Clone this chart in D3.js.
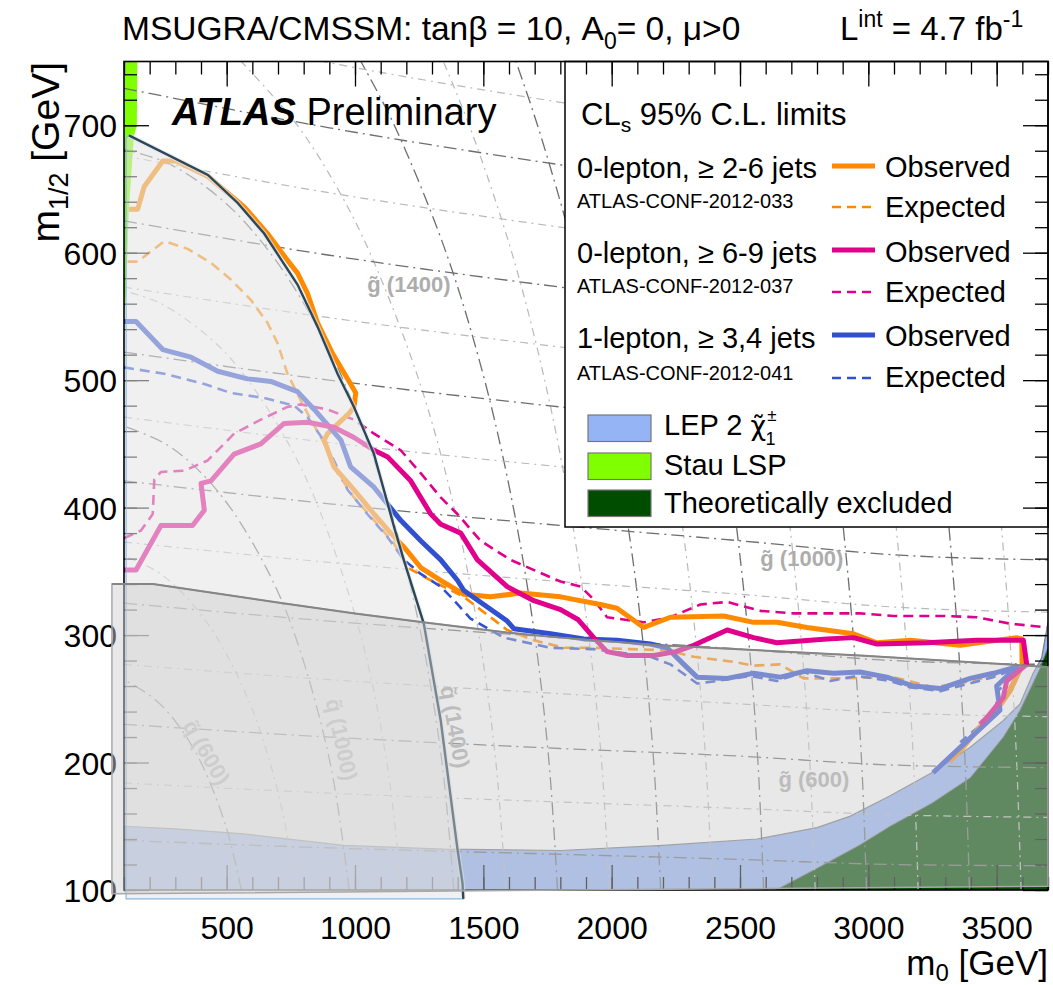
<!DOCTYPE html>
<html><head><meta charset="utf-8">
<script src="https://cdn.jsdelivr.net/npm/d3@7"></script>
<style>
body{margin:0;background:#fff}
svg{display:block}
text{font-family:"Liberation Sans",Arial,Helvetica,sans-serif;fill:#000}
</style></head>
<body><svg id="c" width="1053" height="985"></svg>
<script>
// ---------------- data (m0, m1/2 in GeV) ----------------
const xMajor = [500,1000,1500,2000,2500,3000,3500];
const yMajor = [100,200,300,400,500,600,700];

const orangeObs = [[120,634],[153,634],[179,652],[251,672],[302,672],[426,660],[568,636],[659,615],[737,594],[776,584],[815,568],[854,545],[912,521],[983,497],[1003,490],[996,479],[977,474],[893,458],[880,453],[918,432],[996,414],[1074,395],[1139,380],[1191,369],[1256,353],[1334,343],[1399,335],[1424,332],[1528,330],[1645,333],[1801,330],[1956,324],[2021,321],[2125,306],[2229,314],[2436,315],[2553,310],[2644,310],[2761,306],[2942,301],[3033,294],[3163,296],[3358,292],[3578,298],[3598,297],[3599,276],[3552,256],[3500,241],[3435,228],[3370,212],[3318,201]];
const orangeExp = [[114,593],[153,593],[257,609],[348,603],[439,592],[516,579],[594,563],[659,545],[698,529],[737,505],[789,484],[828,469],[873,453],[932,427],[996,408],[1074,390],[1152,372],[1204,353],[1295,343],[1424,330],[1593,304],[1697,296],[1814,290],[1930,290],[2073,289],[2216,288],[2320,283],[2475,279],[2553,276],[2657,277],[2748,266],[2865,266],[3098,267],[3254,259],[3410,264],[3591,275],[3533,252],[3455,233]];
const magentaObs = [[100,351],[147,351],[244,386],[367,386],[413,398],[400,419],[439,421],[529,442],[633,450],[724,466],[815,467],[918,463],[996,455],[1074,445],[1126,440],[1217,421],[1295,395],[1334,387],[1412,380],[1477,359],[1593,338],[1697,327],[1801,320],[1870,312],[1930,298],[1982,287],[2060,284],[2164,284],[2250,287],[2320,292],[2450,304],[2553,298],[2644,294],[2839,297],[2942,298],[3033,293],[3228,294],[3422,296],[3604,296],[3617,277],[3539,264],[3526,251],[3461,235],[3435,230]];
const magentaExp = [[100,376],[166,382],[212,395],[218,422],[244,428],[335,429],[426,437],[529,458],[633,469],[737,479],[789,481],[893,477],[996,469],[1074,458],[1178,445],[1256,427],[1334,408],[1399,395],[1489,374],[1606,359],[1801,342],[1879,338],[1930,328],[1982,314],[2125,310],[2229,314],[2346,324],[2450,326],[2580,319],[2709,317],[2968,317],[3098,315],[3293,315],[3422,314],[3552,309],[3695,306]];
const blueObs = [[100,546],[147,546],[251,524],[361,518],[465,507],[581,501],[672,499],[776,491],[841,477],[945,453],[983,432],[1074,416],[1126,403],[1178,390],[1256,374],[1334,359],[1399,343],[1424,335],[1593,311],[1619,305],[1762,301],[1892,297],[2021,296],[2151,293],[2216,290],[2281,277],[2333,267],[2450,266],[2553,270],[2657,267],[2761,272],[2865,270],[2968,271],[3072,267],[3176,260],[3280,258],[3397,266],[3487,270],[3578,275],[3500,260],[3513,241],[3385,217],[3252,192]];
const blueExp = [[100,510],[257,505],[413,497],[516,490],[646,486],[763,480],[815,471],[867,456],[918,437],[971,414],[1048,395],[1126,377],[1191,359],[1256,348],[1334,338],[1373,330],[1450,313],[1580,298],[1762,290],[1930,289],[2151,283],[2229,277],[2333,262],[2411,264],[2540,268],[2644,264],[2748,271],[2852,264],[2956,268],[3085,264],[3163,259],[3280,256],[3487,267],[3591,275],[3505,256],[3494,239],[3358,216]];

const lepTop  = [[100,150],[300,148],[567,144],[956,135],[1345,132],[1800,131],[2200,135],[2566,140],[2800,149],[2930,158],[3085,174],[3247,192],[3397,212],[3526,233],[3591,246],[3642,270],[3675,282],[3700,310]];
const theoTop = [[2640,100],[2800,117],[2964,135],[3085,150],[3247,168],[3397,188],[3526,220],[3591,241],[3669,274],[3700,290]];
const stauEdge = [[100,750],[152,750],[150,700],[139,692],[119,634],[108,568],[100,550]];
const prevSquarkEdge = [[119,692],[427,661],[543,639],[646,615],[776,575],[854,542],[932,505],[996,479],[1074,442],[1152,385],[1190,359],[1268,309],[1334,233],[1361,191],[1400,131],[1419,105],[1422,93]];
const prevBandTop = [[53,340],[213,340],[450,333],[719,325],[1000,317],[1265,310],[1592,302],[1799,298],[2188,292],[2968,284],[3700,275]];

// iso-mass contours
const squarkContours = [
 {m:600,  pts:[[557,100],[497,150],[400,200],[309,230],[218,250],[100,265]]},
 {m:800,  pts:[[769,100],[729,150],[669,200],[583,250],[456,300],[342,330],[228,350],[100,362]]},
 {m:1000, pts:[[977,100],[903,200],[766,300],[661,350],[514,400],[387,430],[262,450],[100,464]]},
 {m:1200, pts:[[1182,100],[1124,200],[1022,300],[858,400],[741,450],[583,500],[452,530],[245,560],[100,570]]},
 {m:1400, pts:[[1385,100],[1339,200],[1258,300],[1135,400],[954,500],[830,550],[669,600],[490,640],[273,670],[100,681]]},
 {m:1600, pts:[[1587,100],[1549,200],[1483,300],[1386,400],[1249,500],[1058,600],[933,650],[775,700],[557,750]]},
 {m:1800, pts:[[1789,100],[1756,200],[1700,300],[1617,400],[1505,500],[1355,600],[1153,700],[1023,750]]},
 {m:2000, pts:[[1990,100],[1961,200],[1910,300],[1837,400],[1739,500],[1611,600],[1445,700],[1344,750]]},
 {m:2200, pts:[[2191,100],[2164,200],[2119,300],[2053,400],[1966,500],[1854,600],[1711,700],[1627,750]]},
 {m:2400, pts:[[2392,100],[2367,200],[2326,300],[2266,400],[2187,500],[2087,600],[1962,700],[1888,750]]},
 {m:2600, pts:[[2592,100],[2570,200],[2532,300],[2477,400],[2405,500],[2314,600],[2202,700],[2137,750]]},
 {m:2800, pts:[[2793,100],[2772,200],[2737,300],[2686,400],[2620,500],[2537,600],[2435,700],[2376,750]]},
 {m:3000, pts:[[2993,100],[2974,200],[2941,300],[2894,400],[2833,500],[2756,600],[2663,700],[2609,750]]},
 {m:3200, pts:[[3194,100],[3176,200],[3145,300],[3101,400],[3044,500],[2973,600],[2886,700],[2837,750]]},
 {m:3400, pts:[[3394,100],[3377,200],[3348,300],[3307,400],[3253,500],[3187,600],[3106,700],[3060,750]]},
 {m:3600, pts:[[3595,100],[3578,200],[3551,300],[3512,400],[3462,500],[3399,600],[3324,700],[3281,750]]},
 {m:3800, pts:[[3795,100],[3779,200],[3754,300],[3717,400],[3669,500],[3611,600],[3540,700],[3499,750]]}
];
const gluinoM0 = [100,900,1800,2500,3100,3700];
const gluinoContours = [
 {m:400,  v:[139,133,128,124,120,119]},
 {m:500,  v:[184,176,169,164,159,157]},
 {m:600,  v:[230,220,211,205,198,196]},
 {m:700,  v:[277,265,254,246,239,236]},
 {m:800,  v:[325,311,298,289,280,277]},
 {m:900,  v:[373,357,342,332,322,318]},
 {m:1000, v:[421,403,386,374,363,359]},
 {m:1100, v:[471,451,432,419,406,402]},
 {m:1200, v:[522,500,479,465,450,446]},
 {m:1300, v:[573,549,526,510,494,489]},
 {m:1400, v:[625,598,573,556,539,533]},
 {m:1500, v:[676,647,620,601,583,577]},
 {m:1600, v:[729,698,669,649,629,622]},
 {m:1700, v:[783,749,718,697,675,668]},
 {m:1800, v:[836,800,767,744,721,713]},
 {m:1900, v:[890,851,816,792,767,759]}
];
const contourLabels = [
 {t:"g\u0303 (1400)", m0:1210, m12:569, a:0},
 {t:"g\u0303 (1000)", m0:2741, m12:354, a:0},
 {t:"g\u0303 (600)",  m0:2788, m12:181, a:0},
 {t:"q\u0303 (600)",  m0:422,  m12:208, a:60},
 {t:"q\u0303 (1000)", m0:948,  m12:218, a:78},
 {t:"q\u0303 (1400)", m0:1390, m12:228, a:80}
];

const series = [
 {name:"0-lepton, \u2265 2-6 jets", conf:"ATLAS-CONF-2012-033", color:"#ff8a00", obs:orangeObs, exp:orangeExp},
 {name:"0-lepton, \u2265 6-9 jets", conf:"ATLAS-CONF-2012-037", color:"#e0008c", obs:magentaObs, exp:magentaExp},
 {name:"1-lepton, \u2265 3,4 jets", conf:"ATLAS-CONF-2012-041", color:"#3050d0", obs:blueObs, exp:blueExp}
];

// ---------------- drawing ----------------
const svg = d3.select("#c");
const x = d3.scaleLinear().domain([100,3700]).range([124,1048]);
const y = d3.scaleLinear().domain([100,750]).range([890,61.5]);
const L = d3.line().x(d=>x(d[0])).y(d=>y(d[1]));
const X0=x(100), X1=x(3700), Y0=y(750), Y1=y(100);

svg.append("rect").attr("width",1053).attr("height",985).attr("fill","#fff");
svg.append("clipPath").attr("id","plot").append("rect")
  .attr("x",X0).attr("y",Y0).attr("width",X1-X0).attr("height",Y1-Y0);
const P = svg.append("g").attr("clip-path","url(#plot)");

// filled regions
P.append("path").attr("d", L(lepTop.concat([[3700,95],[100,95]])) + "Z").attr("fill","#94b4f6");
P.append("path").attr("d", L(theoTop.concat([[3700,95],[2640,95]])) + "Z").attr("fill","#004d00");
P.append("path").attr("d", L(stauEdge) + "Z").attr("fill","#80ff00");
P.append("path").attr("d", L(lepTop)).attr("fill","none").attr("stroke","#7a7a7a").attr("stroke-width",1.2);
P.append("path").attr("d", L(theoTop)).attr("fill","none").attr("stroke","#6a6a6a").attr("stroke-width",1);

// iso-mass contours
const darkStyle = s=>s.attr("fill","none").attr("stroke","#6e6e6e").attr("stroke-width",1.3).attr("stroke-dasharray","13,5,2,5");
const lightStyle = s=>s.attr("fill","none").attr("stroke","#b9b9b9").attr("stroke-width",1.2).attr("stroke-dasharray","8,5,2,5");
const Lc = d3.line().x(d=>x(d[0])).y(d=>y(d[1])).curve(d3.curveCatmullRom);
squarkContours.forEach(c=>{
  const p = P.append("path").attr("d", Lc(c.pts));
  (c.m % 400 === 200 ? darkStyle : lightStyle)(p);
});
const Lg = d3.line().x(d=>x(d[0])).y(d=>y(d[1])).curve(d3.curveMonotoneX);
gluinoContours.forEach(c=>{
  const p = P.append("path").attr("d", Lg(gluinoM0.map((m0,i)=>[m0,c.v[i]])));
  (c.m % 200 === 0 ? darkStyle : lightStyle)(p);
});
contourLabels.forEach(l=>{
  P.append("text").attr("transform",`translate(${x(l.m0)},${y(l.m12)}) rotate(${l.a})`)
   .attr("text-anchor","middle").attr("dy", l.a ? "0.35em" : 0)
   .style("font-size","22px").style("font-weight","bold").style("fill","#adadad").text(l.t);
});

// limit curves
series.forEach(s=>{
  P.append("path").attr("d",L(s.exp)).attr("fill","none").attr("stroke",s.color)
   .attr("stroke-width",2.6).attr("stroke-dasharray","10,6").attr("stroke-linejoin","round");
});
[0,2,1].forEach(i=>{
  const s = series[i];
  P.append("path").attr("d",L(s.obs)).attr("fill","none").attr("stroke",s.color)
   .attr("stroke-width",5).attr("stroke-linejoin","round");
});

// legend
const lg = svg.append("g");
lg.append("rect").attr("x",565).attr("y",Y0).attr("width",X1-565).attr("height",527-Y0)
  .attr("fill","#fff").attr("stroke","#000").attr("stroke-width",1.5);
const clt = lg.append("text").attr("x",581).attr("y",125).style("font-size","31px");
clt.append("tspan").text("CL");
clt.append("tspan").attr("dy",7).style("font-size","21px").text("s");
clt.append("tspan").attr("dy",-7).text(" 95% C.L. limits");
const gy = [[178,208,166,177,207,217],[263,293,250,262,292,302],[348,380,335,346,378,387]];
series.forEach((s,i)=>{
  const g = gy[i];
  lg.append("text").attr("x",577).attr("y",g[0]).style("font-size","29px").text(s.name);
  lg.append("text").attr("x",577).attr("y",g[1]).style("font-size","20px").text(s.conf);
  lg.append("line").attr("x1",832).attr("x2",875).attr("y1",g[2]).attr("y2",g[2])
    .attr("stroke",s.color).attr("stroke-width",5);
  lg.append("text").attr("x",885).attr("y",g[3]).style("font-size","29px").text("Observed");
  lg.append("line").attr("x1",832).attr("x2",875).attr("y1",g[4]).attr("y2",g[4])
    .attr("stroke",s.color).attr("stroke-width",2.6).attr("stroke-dasharray","9,6");
  lg.append("text").attr("x",885).attr("y",g[5]).style("font-size","29px").text("Expected");
});
const boxes = [{c:"#94b4f6",y:415},{c:"#80ff00",y:453},{c:"#004d00",y:490}];
boxes.forEach(b=>lg.append("rect").attr("x",588).attr("y",b.y).attr("width",63).attr("height",26.5)
  .attr("fill",b.c).attr("stroke","#777").attr("stroke-width",1.2));
const lep = lg.append("text").attr("x",664).attr("y",435).style("font-size","29px");
lep.append("tspan").text("LEP 2 ");
lep.append("tspan").style("font-family","DejaVu Sans").style("font-size","27px").text("\u03C7\u0303");
lep.append("tspan").attr("dx",1).attr("dy",-14).style("font-size","17px").text("\u00B1");
lep.append("tspan").attr("dx",-11).attr("dy",24).style("font-size","18px").text("1");
lg.append("text").attr("x",664).attr("y",475).style("font-size","29px").text("Stau LSP");
lg.append("text").attr("x",664).attr("y",513).style("font-size","29px").text("Theoretically excluded");

// axes (inward ticks on all four sides)
const ax = svg.append("g");
const xMinor = d3.range(100,3701,100), yMinor = d3.range(100,751,20);
function mk(axisFn, scale, vals, size, fmt, tr){
  const a = axisFn(scale).tickValues(vals).tickSize(-size).tickSizeOuter(0);
  if (fmt) a.tickFormat(fmt); else a.tickFormat("");
  const g = ax.append("g").attr("transform",tr).call(a);
  g.select(".domain").remove();
  g.selectAll("line").attr("stroke","#000").attr("stroke-width",1.3);
  return g;
}
mk(d3.axisBottom,x,xMinor,13,null,`translate(0,${Y1})`);
mk(d3.axisTop,x,xMinor,13,null,`translate(0,${Y0})`);
mk(d3.axisLeft,y,yMinor,13,null,`translate(${X0},0)`);
mk(d3.axisRight,y,yMinor,13,null,`translate(${X1},0)`);
const xb = mk(d3.axisBottom,x,xMajor,25,d3.format("d"),`translate(0,${Y1})`);
xb.call(g=>g.selectAll("text").attr("y",26).style("font-size","32px").style("font-family","Liberation Sans, Arial, sans-serif").attr("fill","#000"));
mk(d3.axisTop,x,xMajor,25,null,`translate(0,${Y0})`);
const yl = mk(d3.axisLeft,y,yMajor,25,d3.format("d"),`translate(${X0},0)`);
yl.call(g=>g.selectAll("text").attr("x",-7).attr("dy","0.36em").style("font-size","32px").style("font-family","Liberation Sans, Arial, sans-serif").attr("fill","#000"));
mk(d3.axisRight,y,yMajor,25,null,`translate(${X1},0)`);
ax.append("rect").attr("x",X0).attr("y",Y0).attr("width",X1-X0).attr("height",Y1-Y0)
  .attr("fill","none").attr("stroke","#000").attr("stroke-width",1.6);

// ATLAS label
const at = svg.append("text").attr("x",172).attr("y",125).style("font-size","38px");
at.append("tspan").style("font-weight","bold").style("font-style","italic").text("ATLAS");
at.append("tspan").text(" Preliminary");

// overlays of earlier exclusions (semi-transparent, drawn over everything in the frame)
const ov = svg.append("g");
ov.append("path").attr("d", L([[108,93],[108,690]].concat(prevSquarkEdge)) + "Z")
  .attr("fill","rgb(228,228,228)").attr("fill-opacity",0.57).attr("stroke","#8ab6dc").attr("stroke-width",1.2);
ov.append("path").attr("d", L(prevSquarkEdge)).attr("fill","none").attr("stroke","#dfe8ee").attr("stroke-width",5).attr("stroke-opacity",0.6);
ov.append("path").attr("d", L(prevSquarkEdge)).attr("fill","none").attr("stroke","#2e4757").attr("stroke-width",2.4);
ov.append("path").attr("d", L(prevBandTop.concat([[3700,103],[53,97]])) + "Z")
  .attr("fill","rgb(206,206,206)").attr("fill-opacity",0.47).attr("stroke","#a8a8a8").attr("stroke-width",1.5);
ov.append("path").attr("d", L(prevBandTop)).attr("fill","none").attr("stroke","#858585").attr("stroke-width",2);

// titles
const tt = svg.append("text").attr("x",122).attr("y",40).style("font-size","33.5px");
tt.append("tspan").text("MSUGRA/CMSSM: tan\u03B2 = 10, A");
tt.append("tspan").attr("dy",9).style("font-size","23px").text("0");
tt.append("tspan").attr("dy",-9).text("= 0, \u03BC>0");
const li = svg.append("text").attr("x",840).attr("y",40).style("font-size","33px");
li.append("tspan").text("L");
li.append("tspan").attr("dy",-13).style("font-size","23px").text("int");
li.append("tspan").attr("dy",13).text(" = 4.7 fb");
li.append("tspan").attr("dy",-13).style("font-size","23px").text("-1");

const xt = svg.append("text").attr("x",1048).attr("y",975).attr("text-anchor","end").style("font-size","35px");
xt.append("tspan").text("m");
xt.append("tspan").attr("dy",6).style("font-size","24px").text("0");
xt.append("tspan").attr("dy",-6).text(" [GeV]");
const yt = svg.append("text").attr("transform","translate(59,62) rotate(-90)").attr("text-anchor","end").style("font-size","39px");
yt.append("tspan").text("m");
yt.append("tspan").attr("dy",9).style("font-size","27px").text("1/2");
yt.append("tspan").attr("dy",-9).text(" [GeV]");
</script>
</body></html>
